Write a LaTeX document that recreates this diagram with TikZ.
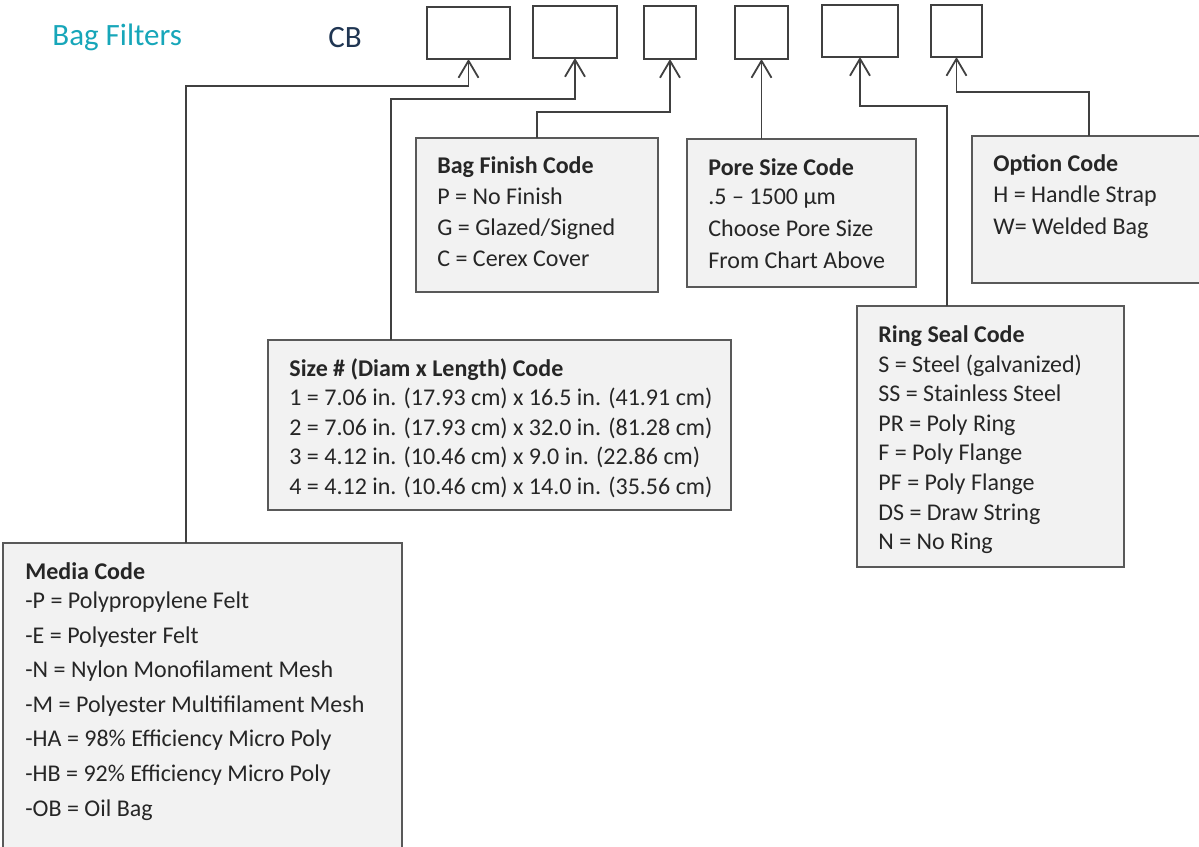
\documentclass[tikz,border=0pt]{standalone}
\usepackage{fontspec}
\setmainfont{Carlito}
\usetikzlibrary{arrows.meta, positioning, calc}
\definecolor{tealtxt}{HTML}{17A6B9}
\definecolor{navy}{HTML}{1F3552}
\definecolor{boxfill}{HTML}{F2F2F2}
\definecolor{boxline}{HTML}{595959}
\definecolor{linkgray}{HTML}{404040}
\definecolor{lighttxt}{HTML}{262626}
\newcommand{\firstline}{\rule{0pt}{10pt}}

\begin{document}
\begin{tikzpicture}[x=0.5pt, y=-0.5pt,
  >={Straight Barb[length=8.5pt, width=10pt]},
  slot/.style={draw=linkgray, line width=1.1pt, fill=white, inner sep=0pt, outer sep=0pt, anchor=north west},
  codebox/.style={draw=boxline, line width=0.9pt, fill=boxfill, inner sep=0pt, outer sep=0pt, anchor=north west},
  codetext/.style={anchor=north west, inner sep=0pt, align=left, text=lighttxt},
  link/.style={->, draw=linkgray, line width=0.9pt}]

\useasboundingbox (0,0) rectangle (1199,846);

% Header
\node[font=\fontsize{15.5}{18}\selectfont, text=tealtxt, anchor=base west, inner sep=0pt] (title) at (52,45) {Bag Filters};
\node[font=\fontsize{15.5}{18}\selectfont, text=navy, anchor=base west, inner sep=0pt] (prefix) at (328,47) {CB};

% === Code slots ===
\node[slot, minimum width=41.5pt, minimum height=26pt] (slot1) at (427,7) {};
\node[slot, minimum width=42pt, minimum height=26pt] (slot2) at (533,6) {};
\node[slot, minimum width=26pt, minimum height=26.5pt] (slot3) at (644,6) {};
\node[slot, minimum width=26.5pt, minimum height=26.5pt] (slot4) at (735,6) {};
\node[slot, minimum width=38pt, minimum height=26pt] (slot5) at (822,5) {};
\node[slot, minimum width=25.5pt, minimum height=26pt] (slot6) at (931,5) {};

% === Code boxes ===
\node[codebox, minimum width=121pt, minimum height=77pt] (finish) at (416,138) {};
\node[codebox, minimum width=114.5pt, minimum height=74pt] (pore) at (687,139) {};
\node[codebox, minimum width=120pt, minimum height=73.5pt] (option) at (972,136) {};
\node[codebox, minimum width=133.5pt, minimum height=130.5pt] (ring) at (857,306) {};
\node[codebox, minimum width=231.5pt, minimum height=85pt] (size) at (268,340) {};
\node[codebox, minimum width=199.5pt, minimum height=160pt] (media) at (3,543) {};

% Bag finish
\node[codetext, font=\fontsize{12}{15.5}\selectfont] (finishtxt) at ($(finish.north west)+(21,15)$)
  {\firstline\textbf{Bag Finish Code}\\
   P = No Finish\\
   G = Glazed/Signed\\
   C = Cerex Cover};

% Pore size
\node[codetext, font=\fontsize{12}{16}\selectfont] (poretxt) at ($(pore.north west)+(21,16)$)
  {\firstline\textbf{Pore Size Code}\\[-1.5pt]
   .5 -- 1500 µm\\
   Choose Pore Size\\
   From Chart Above};

% Option
\node[codetext, font=\fontsize{12}{15.75}\selectfont] (optiontxt) at ($(option.north west)+(21,15)$)
  {\firstline\textbf{Option Code}\\
   H = Handle Strap\\
   W= Welded Bag};

% Ring seal
\node[codetext, font=\fontsize{12}{14.8}\selectfont] (ringtxt) at ($(ring.north west)+(21,16)$)
  {\firstline\textbf{Ring Seal Code}\\
   S = Steel (galvanized)\\
   SS = Stainless Steel\\
   PR = Poly Ring\\
   F = Poly Flange\\
   PF = Poly Flange\\
   DS = Draw String\\
   N = No Ring};

% Size
\node[codetext, font=\fontsize{12}{14.75}\selectfont] (sizetxt) at ($(size.north west)+(21,16)$)
  {\firstline\textbf{Size \# (Diam x Length) Code}\\
   1 = 7.06 in. (17.93 cm) x 16.5 in. (41.91 cm)\\
   2 = 7.06 in. (17.93 cm) x 32.0 in. (81.28 cm)\\
   3 = 4.12 in. (10.46 cm) x 9.0 in. (22.86 cm)\\
   4 = 4.12 in. (10.46 cm) x 14.0 in. (35.56 cm)};

% Media
\node[codetext, font=\fontsize{12}{17.3}\selectfont] (mediatxt) at ($(media.north west)+(22,16)$)
  {\firstline\textbf{Media Code}\\[-2.8pt]
   -P = Polypropylene Felt\\
   -E = Polyester Felt\\
   -N = Nylon Monofilament Mesh\\
   -M = Polyester Multifilament Mesh\\
   -HA = 98\% Efficiency Micro Poly\\
   -HB = 92\% Efficiency Micro Poly\\
   -OB = Oil Bag};

% === Connectors ===
\draw[link] ($(media.north west)+(183,0)$) |- ($(slot1.south)+(0,27)$) -- (slot1.south);
\draw[link] ($(size.north west)+(123,0)$) |- ($(slot2.south)+(0,41)$) -- (slot2.south);
\draw[link] (finish.north) |- ($(slot3.south)+(0,53)$) -- (slot3.south);
\draw[link] ($(pore.north west)+(74.5,0)$) -- (slot4.south);
\draw[link] ($(ring.north west)+(90,0)$) |- ($(slot5.south)+(0,49)$) -- (slot5.south);
\draw[link] ($(option.north west)+(117,0)$) |- ($(slot6.south)+(0,35)$) -- (slot6.south);

\end{tikzpicture}
\end{document}
